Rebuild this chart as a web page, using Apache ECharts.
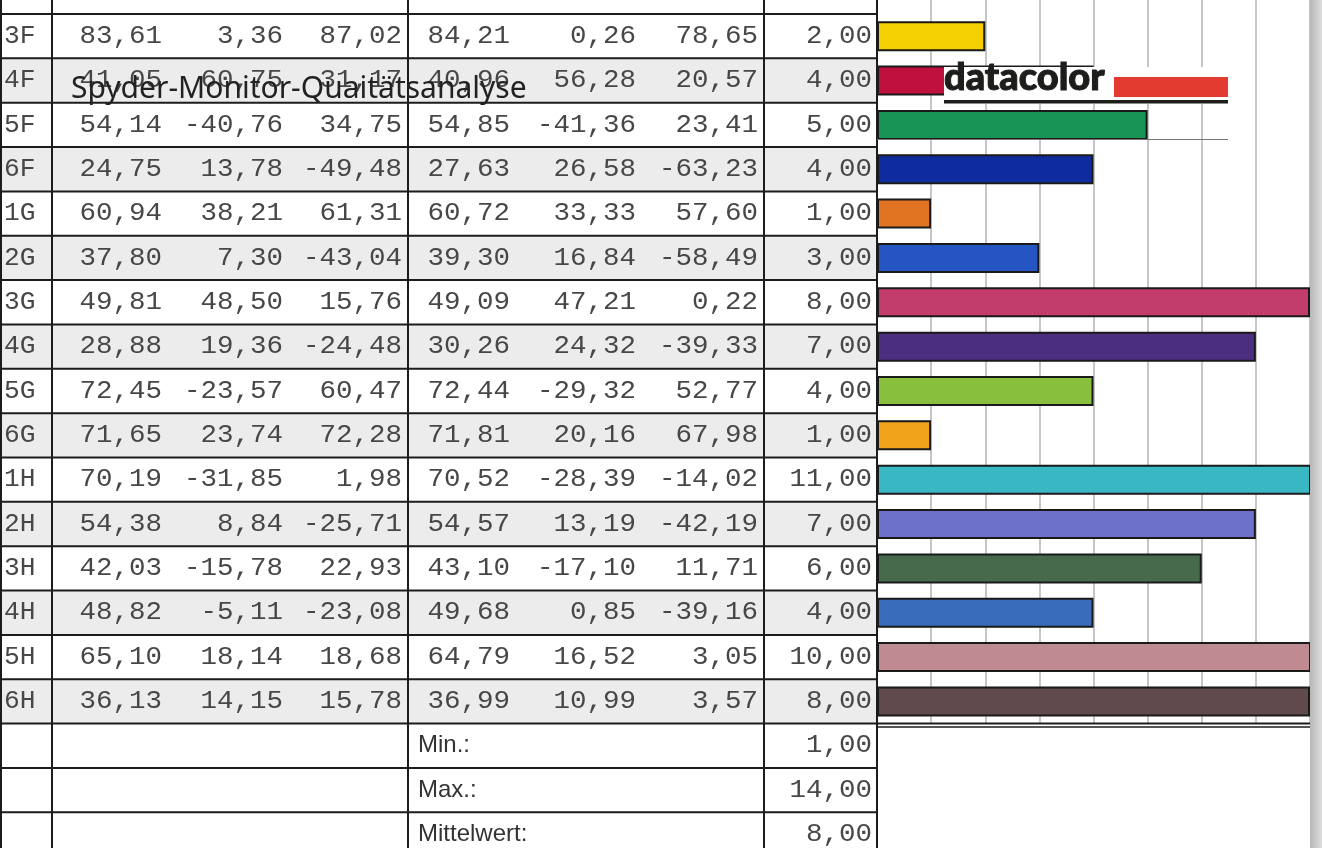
<!DOCTYPE html>
<html>
<head>
<meta charset="utf-8">
<script src="https://cdn.jsdelivr.net/npm/echarts@6/dist/echarts.min.js"></script>
<style>
  html, body { margin: 0; padding: 0; background: #fff; }
  #chart { width: 1322px; height: 848px; }
</style>
</head>
<body>
<div id="chart"></div>
<script>
// Patch names and measured / reference Lab values, plus the resulting colour difference
const patches = ['3F','4F','5F','6F','1G','2G','3G','4G','5G','6G','1H','2H','3H','4H','5H','6H'];
const L1 = [83.61, 41.05, 54.14, 24.75, 60.94, 37.80, 49.81, 28.88, 72.45, 71.65, 70.19, 54.38, 42.03, 48.82, 65.10, 36.13];
const a1 = [3.36, 60.75, -40.76, 13.78, 38.21, 7.30, 48.50, 19.36, -23.57, 23.74, -31.85, 8.84, -15.78, -5.11, 18.14, 14.15];
const b1 = [87.02, 31.17, 34.75, -49.48, 61.31, -43.04, 15.76, -24.48, 60.47, 72.28, 1.98, -25.71, 22.93, -23.08, 18.68, 15.78];
const L2 = [84.21, 40.96, 54.85, 27.63, 60.72, 39.30, 49.09, 30.26, 72.44, 71.81, 70.52, 54.57, 43.10, 49.68, 64.79, 36.99];
const a2 = [0.26, 56.28, -41.36, 26.58, 33.33, 16.84, 47.21, 24.32, -29.32, 20.16, -28.39, 13.19, -17.10, 0.85, 16.52, 10.99];
const b2 = [78.65, 20.57, 23.41, -63.23, 57.60, -58.49, 0.22, -39.33, 52.77, 67.98, -14.02, -42.19, 11.71, -39.16, 3.05, 3.57];
const deltaE = [2, 4, 5, 4, 1, 3, 8, 7, 4, 1, 11, 7, 6, 4, 10, 8];
const patchColors = ['#f4cf02','#c0103e','#179456','#0f2c9e','#e07422','#2455c2','#c23c6c','#4b2e80',
                     '#88c03e','#f2a31c','#39b7c3','#6e71c9','#466a4b','#3a6db9','#bf8a91','#614a4b'];
const statLabels = ['Min.:', 'Max.:', 'Mittelwert:'];
const statValues = [1, 14, 8];
const axisTicks = [0, 1, 2, 3, 4, 5, 6, 7, 8];
const titleText = 'Spyder-Monitor-Quaitätsanalyse';
const logoText = 'datacolor';

// layout of the table and bar panel
const TOP = 14, ROW_H = 44.35;
const TABLE_RIGHT = 877, PLOT_RIGHT = 1310, W = 1322, H = 848;
const colRight = [162, 283, 402, 510, 636, 758, 872];
const vLines = [1, 52, 408, 764, 877];
const MONO = '25px "Liberation Mono", "DejaVu Sans Mono", monospace';
const MONO_SX = 1.1;
const TXT = '#474747', LINE = '#1c1c1c';

const fmt = v => v.toFixed(2).replace('.', ',');
const rowY = i => TOP + ROW_H * i;
const nRows = patches.length + statLabels.length;

const els = [];
function text(x, y, str, font, align, fill, sx, z) {
  els.push({ type: 'text', x: x, y: y, z: z || 5, silent: true, scaleX: sx || 1,
    style: { text: str, font: font, fill: fill || TXT, textAlign: align, textVerticalAlign: 'middle',
             align: align, verticalAlign: 'middle' } });
}
function rect(x, y, w, h, fill, z) {
  els.push({ type: 'rect', z: z || 1, silent: true, shape: { x: x, y: y, width: w, height: h }, style: { fill: fill } });
}
function line(x1, y1, x2, y2, stroke, lw, z) {
  els.push({ type: 'line', z: z || 6, silent: true, shape: { x1: x1, y1: y1, x2: x2, y2: y2 },
    style: { stroke: stroke, lineWidth: lw } });
}

// alternating row shading
for (let i = 0; i < patches.length; i++) {
  if (i % 2 === 1) rect(0, rowY(i), TABLE_RIGHT, ROW_H, '#ececec', 1);
}
// table rules
for (let k = 0; k <= nRows; k++) line(0, rowY(k), TABLE_RIGHT, rowY(k), LINE, 2, 6);
vLines.forEach(x => line(x, 0, x, H, LINE, 2, 6));
// axis line pair below the last bar
line(TABLE_RIGHT, rowY(patches.length), PLOT_RIGHT, rowY(patches.length), LINE, 2, 6);
line(TABLE_RIGHT, rowY(patches.length) + 3.5, PLOT_RIGHT, rowY(patches.length) + 3.5, LINE, 1.5, 6);

// cell texts
for (let i = 0; i < patches.length; i++) {
  const cy = rowY(i) + ROW_H / 2;
  text(4, cy, patches[i], MONO, 'left', TXT, 1.05);
  [L1[i], a1[i], b1[i], L2[i], a2[i], b2[i], deltaE[i]].forEach((v, c) =>
    text(colRight[c], cy, fmt(v), MONO, 'right', TXT, MONO_SX));
}
statLabels.forEach((s, j) => {
  const cy = rowY(patches.length + j) + ROW_H / 2;
  text(418, cy, s, '24px "Liberation Sans Narrow", "Liberation Sans", Arial, sans-serif', 'left', '#333');
  text(colRight[6], cy, fmt(statValues[j]), MONO, 'right', TXT, MONO_SX);
});

// right-hand page shadow
els.push({ type: 'rect', z: 20, silent: true, shape: { x: PLOT_RIGHT, y: 0, width: W - PLOT_RIGHT, height: H },
  style: { fill: new echarts.graphic.LinearGradient(0, 0, 1, 0, [
    { offset: 0, color: '#b7b7b7' }, { offset: 1, color: '#dddddd' }]) } });

// logo block over the bars
rect(944, 67, 284, 37, '#ffffff', 30);
els.push({ type: 'text', x: 944, y: 97, z: 31, silent: true,
  style: { text: logoText, font: '900 38px Lato, "Open Sans", sans-serif', fill: '#1d1d1b',
           stroke: '#1d1d1b', lineWidth: 1,
           textAlign: 'left', textVerticalAlign: 'bottom', align: 'left', verticalAlign: 'alphabetic' } });
rect(1114, 77, 114, 20, '#e33b2f', 31);
rect(944, 100, 284, 3.5, '#1d1d1b', 31);
line(TABLE_RIGHT, 139.5, 1228, 139.5, '#777777', 1, 31);

// title overlay
els.push({ type: 'text', x: 71, y: 89, z: 40, silent: true,
  style: { text: titleText, font: '30px "Noto Sans", "Open Sans", sans-serif', fill: '#222222',
           textAlign: 'left', textVerticalAlign: 'middle', align: 'left', verticalAlign: 'middle' } });

const gridLine = { show: true, lineStyle: { color: '#c6c6c6', width: 2 } };
const valueAxis = idx => ({
  type: 'value', gridIndex: idx, min: axisTicks[0], max: axisTicks[axisTicks.length - 1], interval: 1,
  axisLine: { show: false }, axisTick: { show: false }, axisLabel: { show: false }, splitLine: gridLine
});

const chart = echarts.init(document.getElementById('chart'), null, { renderer: 'canvas' });
chart.setOption({
  animation: false,
  backgroundColor: '#ffffff',
  grid: [
    { left: TABLE_RIGHT, top: TOP, width: PLOT_RIGHT - TABLE_RIGHT, height: ROW_H * patches.length },
    { left: TABLE_RIGHT, top: 0, width: PLOT_RIGHT - TABLE_RIGHT, height: TOP }
  ],
  xAxis: [valueAxis(0), valueAxis(1)],
  yAxis: [
    { type: 'category', gridIndex: 0, data: patches, inverse: true,
      axisLine: { show: false }, axisTick: { show: false }, axisLabel: { show: false }, splitLine: { show: false } },
    { type: 'value', gridIndex: 1, show: false, splitLine: { show: false } }
  ],
  series: [{
    type: 'bar', xAxisIndex: 0, yAxisIndex: 0, barWidth: 30, clip: true,
    data: deltaE.map((v, i) => ({ value: v, itemStyle: { color: patchColors[i] } })),
    itemStyle: { borderColor: '#1a1a1a', borderWidth: 2 }
  }],
  graphic: { elements: els }
});
</script>
</body>
</html>
